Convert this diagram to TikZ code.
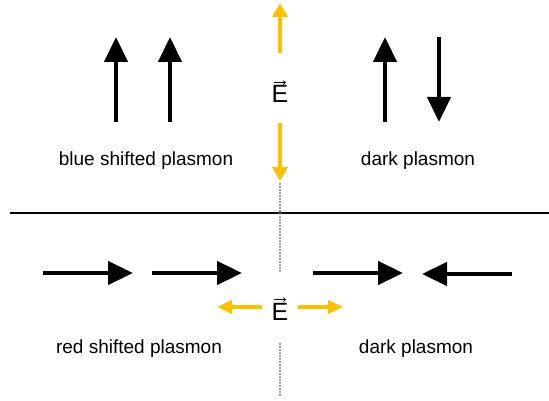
\documentclass[tikz,border=0pt]{standalone}
\usepackage{fontspec}
\setmainfont{Liberation Sans}
\usetikzlibrary{arrows.meta}
\definecolor{gold}{HTML}{FFC000}
\begin{document}
\begin{tikzpicture}[x=1pt,y=-1pt,
  blk/.style={line width=4.5pt,-{Triangle[length=25pt,width=23pt]}},
  yelv/.style={line width=4pt,color=gold,-{Triangle[length=14pt,width=15pt]}},
  yelh/.style={line width=4pt,color=gold,-{Triangle[length=15pt,width=13pt]}},
  lbl/.style={font=\fontsize{19}{22}\selectfont, anchor=base, inner sep=0pt},
  efield/.style={font=\fontsize{25}{30}\selectfont, anchor=base, inner sep=0pt},
  vecarrow/.style={line width=0.7pt,-{Straight Barb[length=2.5pt,width=4pt]}},
  axisline/.style={gray!75, dash pattern=on 1.5pt off 1.5pt, line width=1.1pt},
  divider/.style={line width=1.5pt}]
\useasboundingbox (0,0) rectangle (549,401);
% coordinates
\coordinate (a1s) at (116,122); \coordinate (a1e) at (116,37);
\coordinate (a2s) at (170,122); \coordinate (a2e) at (170,37);
\coordinate (a3s) at (385,122); \coordinate (a3e) at (385,37);
\coordinate (a4s) at (439,37);  \coordinate (a4e) at (439,122);
\coordinate (b1s) at (43,273);  \coordinate (b1e) at (133,273);
\coordinate (b2s) at (152,273); \coordinate (b2e) at (242,273);
\coordinate (b3s) at (313,273); \coordinate (b3e) at (403,273);
\coordinate (b4s) at (512,274); \coordinate (b4e) at (422,274);
\coordinate (yu1) at (280,53);  \coordinate (yu2) at (280,3);
\coordinate (yd1) at (280,123); \coordinate (yd2) at (280,181);
\coordinate (yl1) at (262,307); \coordinate (yl2) at (217,307);
\coordinate (yr1) at (298,307); \coordinate (yr2) at (343,307);
\coordinate (d1s) at (280,183); \coordinate (d1e) at (280,272);
\coordinate (d2s) at (280,343); \coordinate (d2e) at (280,397);
\coordinate (hl) at (10,213);   \coordinate (hr) at (549,213);
% divider and axis
\draw[divider] (hl) -- (hr);
\draw[axisline] (d1s) -- (d1e);
\draw[axisline] (d2s) -- (d2e);
% black arrows
\draw[blk] (a1s) -- (a1e);
\draw[blk] (a2s) -- (a2e);
\draw[blk] (a3s) -- (a3e);
\draw[blk] (a4s) -- (a4e);
\draw[blk] (b1s) -- (b1e);
\draw[blk] (b2s) -- (b2e);
\draw[blk] (b3s) -- (b3e);
\draw[blk] (b4s) -- (b4e);
% yellow field arrows
\draw[yelv] (yu1) -- (yu2);
\draw[yelv] (yd1) -- (yd2);
\draw[yelh] (yl1) -- (yl2);
\draw[yelh] (yr1) -- (yr2);
% E labels
\node[efield] (E1) at (280,103) {E};
\node[efield] (E2) at (280,320) {E};
\draw[vecarrow] ([xshift=-6pt,yshift=3pt]E1.north) -- ([xshift=6pt,yshift=3pt]E1.north);
\draw[vecarrow] ([xshift=-6pt,yshift=3pt]E2.north) -- ([xshift=6pt,yshift=3pt]E2.north);
% text labels
\node[lbl] (t1) at (146,165) {blue shifted plasmon};
\node[lbl] (t2) at (418,165) {dark plasmon};
\node[lbl] (t3) at (139,353) {red shifted plasmon};
\node[lbl] (t4) at (416,353) {dark plasmon};
\end{tikzpicture}
\end{document}
